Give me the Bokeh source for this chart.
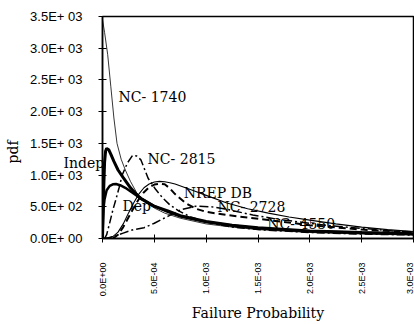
import math
from bokeh.plotting import figure
from bokeh.models import FixedTicker, Label, Range1d
from bokeh.embed import file_html
from bokeh.resources import INLINE

# ---- tick labels ----
x_ticks = [0, 0.0005, 0.001, 0.0015, 0.002, 0.0025, 0.003]
x_tick_labels = ["0.0E+00", "5.0E-04", "1.0E-03", "1.5E-03", "2.0E-03", "2.5E-03", "3.0E-03"]
y_ticks = [0, 500, 1000, 1500, 2000, 2500, 3000, 3500]
y_tick_labels = ["0.0E+ 00", "5.0E+ 02", "1.0E+ 03", "1.5E+ 03", "2.0E+ 03",
                 "2.5E+ 03", "3.0E+ 03", "3.5E+ 03"]

# ---- series (failure probability, pdf) ----
nc1740_p = [0, 2e-5, 5e-5, 8e-5, 1.1e-4, 1.4e-4, 1.8e-4, 2.2e-4, 2.7e-4, 3.3e-4, 4e-4,
            5e-4, 6e-4, 7.5e-4, 1e-3, 1.25e-3, 1.5e-3, 2e-3, 2.5e-3, 3e-3]
nc1740_pdf = [3450, 3250, 2900, 2400, 1900, 1500, 1250, 1080, 900, 720, 600,
              480, 400, 320, 230, 180, 140, 95, 70, 55]

indep_p = [0, 1e-5, 2e-5, 3e-5, 4e-5, 6e-5, 8e-5, 1.1e-4, 1.5e-4, 2e-4, 2.7e-4, 3.6e-4,
           4.9e-4, 6.3e-4, 7.5e-4, 1e-3, 1.25e-3, 1.5e-3, 2e-3, 2.5e-3, 3e-3]
indep_pdf = [0, 700, 1200, 1380, 1420, 1400, 1330, 1215, 1080, 960, 800, 640,
             515, 436, 360, 270, 210, 170, 120, 95, 75]

dep_p = [0, 5e-6, 1e-5, 2e-5, 4e-5, 7e-5, 1e-4, 1.3e-4, 1.7e-4, 2.2e-4, 3e-4, 3.8e-4,
         5e-4, 6.3e-4, 7.5e-4, 1e-3, 1.25e-3, 1.5e-3, 2e-3, 2.5e-3, 3e-3]
dep_pdf = [0, 300, 480, 620, 760, 830, 855, 860, 840, 800, 710, 620,
           510, 420, 350, 260, 205, 160, 115, 90, 70]

nc2815_p = [2e-5, 4e-5, 7e-5, 1e-4, 1.3e-4, 1.6e-4, 1.9e-4, 2.4e-4, 2.9e-4, 3.3e-4, 3.7e-4,
            4.4e-4, 5.1e-4, 5.8e-4, 6.5e-4, 7.3e-4, 8.5e-4, 1e-3, 1.25e-3, 1.5e-3, 2e-3,
            2.5e-3, 3e-3]
nc2815_pdf = [0, 60, 250, 450, 620, 800, 1000, 1190, 1310, 1300, 1240,
              950, 780, 640, 530, 440, 340, 260, 180, 140, 95,
              70, 55]

nrep_p = [5e-5, 1e-4, 1.5e-4, 2e-4, 2.5e-4, 3e-4, 3.5e-4, 4e-4, 4.5e-4, 5e-4, 5.5e-4, 6e-4,
          6.5e-4, 7e-4, 8e-4, 9e-4, 1e-3, 1.2e-3, 1.4e-3, 1.6e-3, 1.8e-3, 2e-3, 2.25e-3,
          2.5e-3, 2.75e-3, 3e-3]
nrep_pdf = [0, 30, 100, 230, 400, 560, 700, 800, 860, 890, 900, 895,
            880, 860, 800, 740, 680, 560, 470, 400, 340, 290, 230,
            180, 140, 110]

nc2728_p = [1e-4, 1.5e-4, 2e-4, 2.5e-4, 3e-4, 3.5e-4, 4e-4, 4.5e-4, 5e-4, 5.5e-4, 6e-4,
            6.5e-4, 7e-4, 8e-4, 9e-4, 1e-3, 1.2e-3, 1.4e-3, 1.6e-3, 2e-3, 2.5e-3, 3e-3]
nc2728_pdf = [0, 60, 180, 330, 480, 620, 730, 810, 850, 865, 855,
              790, 700, 560, 470, 420, 370, 330, 290, 210, 140, 100]

nc4550_p = [1e-5, 5e-5, 1e-4, 1.5e-4, 2e-4, 2.5e-4, 3e-4, 4e-4, 5e-4, 6.3e-4, 7.5e-4,
            9e-4, 1.05e-3, 1.2e-3, 1.45e-3, 1.7e-3, 1.9e-3, 2.2e-3, 2.5e-3, 2.8e-3, 3e-3]
nc4550_pdf = [0, 10, 30, 55, 85, 115, 140, 170, 240, 350, 450,
              510, 500, 460, 370, 300, 260, 200, 160, 120, 100]

serif = "DejaVu Serif"

p = figure(width=414, height=324, output_backend="svg", toolbar_location=None,
           x_range=Range1d(0, 0.003), y_range=Range1d(0, 3500),
           min_border_left=102, min_border_right=1, min_border_top=13, min_border_bottom=86,
           background_fill_color="white", border_fill_color="white")

p.xgrid.visible = False
p.ygrid.visible = False
p.outline_line_color = "black"
p.outline_line_width = 1.5
p.outline_line_alpha = 1

for ax in (p.xaxis, p.yaxis):
    ax.axis_line_color = "black"
    ax.axis_line_width = 1.5
    ax.major_tick_line_color = "black"
    ax.major_tick_line_width = 1
    ax.major_tick_in = 4
    ax.major_tick_out = 4
    ax.minor_tick_line_color = None
    ax.major_label_text_color = "black"
    ax.major_label_text_font = "Liberation Sans"
    ax.axis_label_text_font = serif
    ax.axis_label_text_font_size = "14px"
    ax.axis_label_text_font_style = "normal"
    ax.axis_label_text_color = "black"

p.xaxis.ticker = FixedTicker(ticks=x_ticks)
p.xaxis.major_label_overrides = {t: s for t, s in zip(x_ticks, x_tick_labels)}
p.xaxis.major_label_orientation = math.pi / 2
p.xaxis.major_label_text_font_size = "9px"
p.xaxis.major_label_standoff = 20
p.xaxis.axis_label = "Failure Probability"
p.xaxis.axis_label_standoff = 6

p.yaxis.ticker = FixedTicker(ticks=y_ticks)
p.yaxis.major_label_overrides = {t: s for t, s in zip(y_ticks, y_tick_labels)}
p.yaxis.major_label_text_font_size = "13px"
p.yaxis.major_label_standoff = 16
# trailing no-break spaces push the visible title down to where the reference has it
p.yaxis.axis_label = "pdf" + "\u00a0" * 11
p.yaxis.axis_label_standoff = 6

# curves
p.line(nc1740_p, nc1740_pdf, line_color="black", line_width=0.8)
p.line(nrep_p, nrep_pdf, line_color="black", line_width=1.1)
p.line(nc4550_p, nc4550_pdf, line_color="black", line_width=1.5, line_dash="9 3 2 3")
p.line(nc2728_p, nc2728_pdf, line_color="black", line_width=2, line_dash="7 4")
p.line(nc2815_p, nc2815_pdf, line_color="black", line_width=1.5, line_dash="8 3 2 3")
p.line(dep_p, dep_pdf, line_color="black", line_width=2.5)
p.line(indep_p, indep_pdf, line_color="black", line_width=3)

# curve labels
labels = [
    ("NC- 1740", 1.55e-4, 2224),
    ("NC- 2815", 4.35e-4, 1260),
    ("NREP DB", 7.83e-4, 716),
    ("NC- 2728", 1.11e-3, 498),
    ("NC- 4550", 1.59e-3, 233),
    ("Dep", 1.93e-4, 513),
]
for txt, lx, ly in labels:
    p.add_layout(Label(x=lx, y=ly, text=txt, text_font=serif, text_font_size="14px",
                       text_color="black", text_baseline="alphabetic", text_align="left"))

# "Indep" crosses the y axis, so it goes in a side panel (not clipped to the frame)
p.add_layout(Label(x=-3.77e-4, y=1198, text="Indep", text_font=serif, text_font_size="14px",
                   text_line_height=0.8,
                   text_color="black", text_baseline="alphabetic", text_align="left"), "above")

open("out.html", "w").write(file_html(p, INLINE))
